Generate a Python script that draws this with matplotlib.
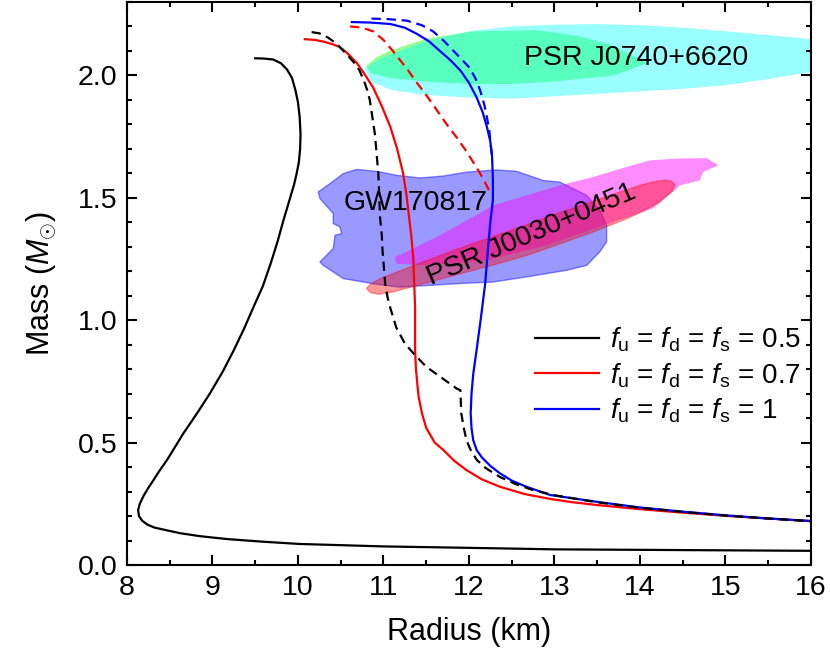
import numpy as np
import matplotlib
matplotlib.use("Agg")
import matplotlib.pyplot as plt
from matplotlib.ticker import MultipleLocator, FormatStrFormatter

plt.rcParams['font.family'] = ['Liberation Sans', 'DejaVu Sans']
plt.rcParams['mathtext.fontset'] = 'custom'
plt.rcParams['mathtext.rm'] = 'Liberation Sans'
plt.rcParams['mathtext.it'] = 'Liberation Sans:italic'

# M-R curves (radius km, mass Msun)
r_05 = [9.50, 9.60, 9.71, 9.80, 9.87, 9.93, 9.97, 10.00, 10.02, 10.03, 10.025, 10.01, 9.985, 9.955,
        9.90, 9.83, 9.76, 9.68, 9.59, 9.48, 9.37, 9.25, 9.12, 8.97, 8.82, 8.66, 8.47, 8.38, 8.31,
        8.24, 8.19, 8.15, 8.13, 8.14, 8.18, 8.24, 8.32, 8.45, 8.62, 8.85, 9.17, 9.6, 10.02, 11.0,
        12.36, 13.0, 14.0, 16.0]
m_05 = [2.07, 2.069, 2.065, 2.05, 2.025, 1.99, 1.94, 1.89, 1.83, 1.76, 1.70, 1.645, 1.60, 1.555,
        1.49, 1.408, 1.32, 1.231, 1.14, 1.054, 0.966, 0.878, 0.79, 0.701, 0.62, 0.538, 0.43, 0.385, 0.347,
        0.31, 0.28, 0.25, 0.225, 0.20, 0.18, 0.165, 0.153, 0.143, 0.13, 0.118, 0.106, 0.095, 0.086, 0.076,
        0.068, 0.064, 0.062, 0.058]

r_07 = [10.08, 10.2, 10.3, 10.4, 10.49, 10.58, 10.69, 10.78, 10.88, 10.98, 11.08, 11.16, 11.23, 11.27,
        11.30, 11.33, 11.35, 11.36, 11.37, 11.37, 11.37, 11.38, 11.41, 11.45, 11.5, 11.6, 11.7, 11.83,
        11.97, 12.15, 12.36, 12.65, 12.95, 13.2, 13.5, 14.0, 14.5, 15.0, 15.5, 16.0]
m_07 = [2.148, 2.145, 2.138, 2.128, 2.116, 2.09, 2.05, 2.005, 1.95, 1.875, 1.79, 1.70, 1.60, 1.51,
        1.42, 1.33, 1.245, 1.15, 1.05, 0.96, 0.88, 0.80, 0.69, 0.62, 0.56, 0.50, 0.47, 0.425,
        0.388, 0.35, 0.32, 0.29, 0.27, 0.257, 0.245, 0.228, 0.214, 0.201, 0.19, 0.179]

r_10 = [10.63, 10.85, 11.08, 11.25, 11.39, 11.53, 11.66, 11.79, 11.9, 12.0, 12.09, 12.16, 12.21, 12.25,
        12.27, 12.28, 12.28, 12.25, 12.22, 12.19, 12.14, 12.09, 12.05, 12.03, 12.02, 12.03, 12.05, 12.09,
        12.15, 12.25, 12.36, 12.5, 12.67, 12.95, 13.5, 14.0, 14.5, 15.0, 15.5, 16.0]
m_10 = [2.218, 2.216, 2.21, 2.195, 2.17, 2.14, 2.10, 2.06, 2.02, 1.97, 1.91, 1.85, 1.79, 1.73,
        1.67, 1.58, 1.49, 1.40, 1.28, 1.15, 1.01, 0.88, 0.78, 0.70, 0.62, 0.56, 0.51, 0.47,
        0.44, 0.405, 0.375, 0.345, 0.32, 0.286, 0.258, 0.235, 0.218, 0.203, 0.19, 0.18]

# hybrid branches (dashed)
r_05h = [10.16, 10.25, 10.35, 10.45, 10.56, 10.65, 10.72, 10.77, 10.81, 10.84, 10.87, 10.90, 10.92,
         10.94, 10.95, 10.96, 10.98, 10.99, 11.02, 11.05, 11.08, 11.15, 11.25, 11.35, 11.5, 11.7, 11.86,
         11.9, 11.91, 11.94, 11.97, 12.02, 12.09, 12.2, 12.36, 12.55, 12.75, 13.0, 13.5, 14.0, 14.5,
         15.0, 15.5, 16.0]
m_05h = [2.177, 2.172, 2.155, 2.13, 2.09, 2.055, 2.02, 1.98, 1.94, 1.90, 1.83, 1.76, 1.68,
         1.60, 1.51, 1.42, 1.35, 1.28, 1.15, 1.09, 1.05, 0.97, 0.905, 0.865, 0.81, 0.76, 0.72,
         0.714, 0.62, 0.56, 0.51, 0.47, 0.43, 0.395, 0.36, 0.33, 0.306, 0.285, 0.256, 0.234, 0.217,
         0.202, 0.19, 0.179]

r_07h = [10.61, 10.75, 10.88, 11.0, 11.11, 11.2, 11.27, 11.38, 11.5, 11.62, 11.74, 11.86, 11.97,
         12.06, 12.13, 12.2, 12.25]
m_07h = [2.2, 2.195, 2.18, 2.145, 2.1, 2.06, 2.03, 1.975, 1.92, 1.86, 1.80, 1.745, 1.69,
         1.64, 1.60, 1.555, 1.52]

r_10h = [10.86, 11.05, 11.27, 11.45, 11.58, 11.71, 11.82, 11.93, 12.01, 12.08, 12.13, 12.18, 12.21,
         12.24, 12.25, 12.27]
m_10h = [2.232, 2.23, 2.224, 2.205, 2.18, 2.14, 2.10, 2.06, 2.03, 1.985, 1.94, 1.88, 1.83,
         1.77, 1.73, 1.67]

# observational constraints (outlines)
j0740_in_r = [10.8, 10.92, 11.07, 11.5, 12.05, 12.8, 13.3, 13.7, 14.08, 13.7, 13.0, 12.5, 12.0, 11.5, 11.07, 10.85]
j0740_in_m = [2.04, 2.075, 2.10, 2.15, 2.18, 2.185, 2.16, 2.12, 2.05, 2.0, 1.975, 1.965, 1.965, 1.975, 1.99, 2.01]

j0740_out_r = [10.78, 11.0, 11.5, 12.0, 12.5, 13.0, 13.5, 14.0, 14.5, 15.0, 15.5, 16.1,
               16.1, 15.5, 15.0, 14.5, 14.0, 13.5, 13.0, 12.5, 12.0, 11.5, 11.1, 10.85]
j0740_out_m = [2.03, 2.075, 2.14, 2.18, 2.2, 2.207, 2.21, 2.205, 2.195, 2.18, 2.165, 2.145,
               2.02, 1.985, 1.96, 1.945, 1.935, 1.925, 1.915, 1.905, 1.91, 1.92, 1.94, 1.975]

gw_r = [10.237, 10.374, 10.53, 10.687, 10.92, 11.154, 11.427, 11.70, 11.973, 12.324, 12.558, 12.869,
        13.064, 13.377, 13.53, 13.61, 13.61, 13.53, 13.377, 13.143, 12.675, 12.28, 11.895, 11.19,
        10.92, 10.53, 10.296, 10.257, 10.413, 10.433, 10.511, 10.491, 10.413, 10.413, 10.257]
gw_m = [1.524, 1.558, 1.599, 1.616, 1.608, 1.592, 1.581, 1.589, 1.605, 1.614, 1.608, 1.571,
        1.564, 1.510, 1.449, 1.388, 1.32, 1.279, 1.224, 1.204, 1.177, 1.156, 1.15, 1.135,
        1.147, 1.170, 1.224, 1.238, 1.293, 1.347, 1.354, 1.381, 1.395, 1.436, 1.497]

j0030a_r = [11.135, 11.349, 11.661, 12.012, 12.284, 12.675, 13.064, 13.454, 13.844, 14.117, 14.429,
            14.78, 14.916, 14.74, 14.70, 14.468, 14.429, 14.152, 13.688, 12.909, 12.207, 11.505, 11.154]
j0030a_m = [1.258, 1.293, 1.347, 1.415, 1.469, 1.510, 1.551, 1.585, 1.626, 1.653, 1.660,
            1.662, 1.633, 1.605, 1.571, 1.551, 1.538, 1.457, 1.401, 1.306, 1.245, 1.224, 1.231]

j0030b_r = [10.8, 10.85, 10.95, 11.12, 11.5, 11.9, 12.3, 12.68, 13.05, 13.45, 13.8, 14.04, 14.2, 14.3,
            14.37, 14.41, 14.38, 14.23, 14.05, 13.85, 13.45, 13.05, 12.68, 12.3, 11.9, 11.5, 11.12,
            10.95, 10.85]
j0030b_m = [1.13, 1.148, 1.168, 1.192, 1.243, 1.295, 1.344, 1.39, 1.438, 1.485, 1.528, 1.555, 1.568,
            1.572, 1.568, 1.552, 1.528, 1.483, 1.448, 1.415, 1.36, 1.31, 1.265, 1.227, 1.19, 1.152,
            1.116, 1.106, 1.112]

labels = [r'$f_{\rm u}$ = $f_{\rm d}$ = $f_{\rm s}$ = 0.5',
          r'$f_{\rm u}$ = $f_{\rm d}$ = $f_{\rm s}$ = 0.7',
          r'$f_{\rm u}$ = $f_{\rm d}$ = $f_{\rm s}$ = 1']

fig = plt.figure(figsize=(8.3, 6.62), dpi=100)
ax = fig.add_axes([0.153, 0.1465, 0.824, 0.8505])

ax.fill(j0740_in_r, j0740_in_m, color=(0.0, 1.0, 0.0), alpha=0.42, lw=0)
ax.fill(j0740_out_r, j0740_out_m, color=(0.0, 1.0, 1.0), alpha=0.4, lw=0)
ax.fill(gw_r, gw_m, facecolor=(0, 0, 1, 0.4), edgecolor=(0, 0, 1, 0.45), lw=1.0)
ax.fill(j0030a_r, j0030a_m, color=(1.0, 0.0, 1.0), alpha=0.45, lw=0)
ax.fill(j0030b_r, j0030b_m, facecolor=(1, 0, 0, 0.4), edgecolor=(1, 0, 0, 0.35), lw=1.0)

dash = (4.2, 2.6)
ax.plot(r_05, m_05, color='black', lw=1.6, label=labels[0])
ax.plot(r_07, m_07, color='red', lw=1.6, label=labels[1])
ax.plot(r_10, m_10, color='blue', lw=1.6, label=labels[2])
ax.plot(r_05h, m_05h, color='black', lw=1.6, ls=(0, dash))
ax.plot(r_07h, m_07h, color='red', lw=1.6, ls=(0, dash))
ax.plot(r_10h, m_10h, color='blue', lw=1.6, ls=(0, dash))

ax.text(11.38, 1.478, 'GW170817', fontsize=20.5, ha='center', va='center')
ax.text(12.73, 1.35, 'PSR J0030+0451', fontsize=20.5, ha='center', va='center', rotation=23)
ax.text(13.95, 2.07, 'PSR J0740+6620', fontsize=20.5, ha='center', va='center')

ax.set_xlim(8, 16)
ax.set_ylim(0, 2.3)
ax.xaxis.set_major_locator(MultipleLocator(1))
ax.xaxis.set_minor_locator(MultipleLocator(0.5))
ax.yaxis.set_major_locator(MultipleLocator(0.5))
ax.yaxis.set_minor_locator(MultipleLocator(0.1))
ax.yaxis.set_major_formatter(FormatStrFormatter('%.1f'))
ax.tick_params(which='both', direction='in', top=True, right=True, width=1.5, labelsize=20.5, pad=7)
ax.tick_params(which='major', length=7)
ax.tick_params(which='minor', length=3.5)
for s in ax.spines.values():
    s.set_linewidth(1.5)

ax.set_xlabel('Radius (km)', fontsize=22, labelpad=12)
ax.set_ylabel(r'Mass ($M_{\odot}$)', fontsize=22, labelpad=14)

ax.legend(loc='upper left', bbox_to_anchor=(0.58, 0.445), frameon=False, fontsize=20,
          handlelength=2.3, handletextpad=0.4, labelspacing=0.25, borderaxespad=0)

fig.savefig('out.png', dpi=100)
